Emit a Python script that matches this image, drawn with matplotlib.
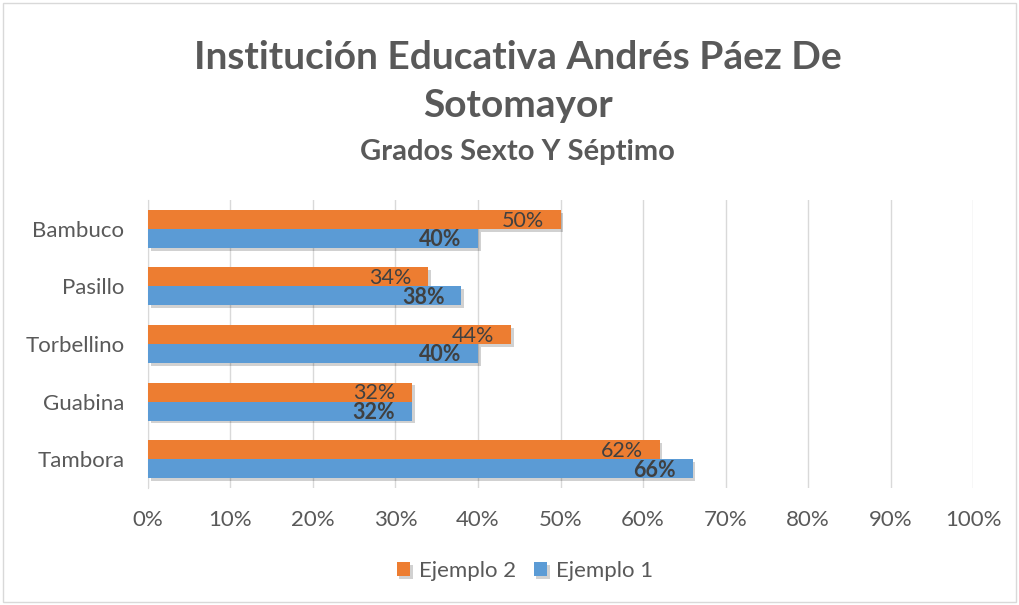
import matplotlib.pyplot as plt
import matplotlib.patheffects as pe
from matplotlib.patches import Rectangle
import numpy as np

categorias = ["Tambora", "Guabina", "Torbellino", "Pasillo", "Bambuco"]
ejemplo1 = [66, 32, 40, 38, 40]
ejemplo2 = [62, 32, 44, 34, 50]
ticks_x = [0, 10, 20, 30, 40, 50, 60, 70, 80, 90, 100]

naranja = "#ED7D31"
azul = "#5B9BD5"
gris_texto = "#595959"
gris_label = "#404040"

plt.rcParams["font.family"] = ["Lato", "DejaVu Sans"]

fig = plt.figure(figsize=(10.19, 6.05), dpi=100)
fig.patches.append(Rectangle((0.003, 0.005), 0.994, 0.99, transform=fig.transFigure,
                             fill=False, edgecolor="#D9D9D9", linewidth=1))

ax = fig.add_axes([0.1452, 0.1934, 0.8097, 0.476])

y = np.arange(len(categorias))
h = 0.33
sombra = [pe.SimplePatchShadow(offset=(2, -2), shadow_rgbFace="black", alpha=0.18), pe.Normal()]

# naranja primero para que la barra azul tape su sombra
b2 = ax.barh(y + h / 2, ejemplo2, height=h, color=naranja, label="Ejemplo 2", zorder=3)
b1 = ax.barh(y - h / 2, ejemplo1, height=h, color=azul, label="Ejemplo 1", zorder=3)
for b in list(b1) + list(b2):
    b.set_path_effects(sombra)

for yi, v in zip(y, ejemplo1):
    ax.annotate(f"{v}%", (v, yi - h / 2), xytext=(-12, -1), textcoords="offset points",
                ha="right", va="center", fontsize=15.5, fontweight="bold", color=gris_label, zorder=4)
for yi, v in zip(y, ejemplo2):
    ax.annotate(f"{v}%", (v, yi + h / 2), xytext=(-12, -1), textcoords="offset points",
                ha="right", va="center", fontsize=15.5, color=gris_label, zorder=4)

ax.set_xlim(0, 100)
ax.set_ylim(-0.5, len(categorias) - 0.5)
ax.set_xticks(ticks_x)
ax.set_xticklabels([f"{t}%" for t in ticks_x])
ax.set_yticks(y)
ax.set_yticklabels(categorias)
ax.tick_params(axis="both", length=0, labelsize=16, colors=gris_texto)
ax.tick_params(axis="x", pad=16)
ax.tick_params(axis="y", pad=17)
ax.grid(axis="x", color="#D9D9D9", linewidth=1, zorder=0)
for s in ["top", "right", "bottom"]:
    ax.spines[s].set_visible(False)
ax.spines["left"].set_color("#D9D9D9")

fig.text(0.508, 0.905, "Institución Educativa Andrés Páez De", ha="center", va="center",
         fontsize=28, fontweight="bold", color=gris_texto)
fig.text(0.508, 0.825, "Sotomayor", ha="center", va="center",
         fontsize=28, fontweight="bold", color=gris_texto)
fig.text(0.508, 0.749, "Grados Sexto Y Séptimo", ha="center", va="center",
         fontsize=21, fontweight="bold", color=gris_texto)

fig.legend([b2, b1], ["Ejemplo 2", "Ejemplo 1"], loc="center", bbox_to_anchor=(0.515, 0.056),
           ncol=2, frameon=False, fontsize=16, labelcolor=gris_texto,
           handlelength=0.6, handleheight=0.6, handletextpad=0.4, columnspacing=0.8)

fig.savefig("out.png", dpi=100)
